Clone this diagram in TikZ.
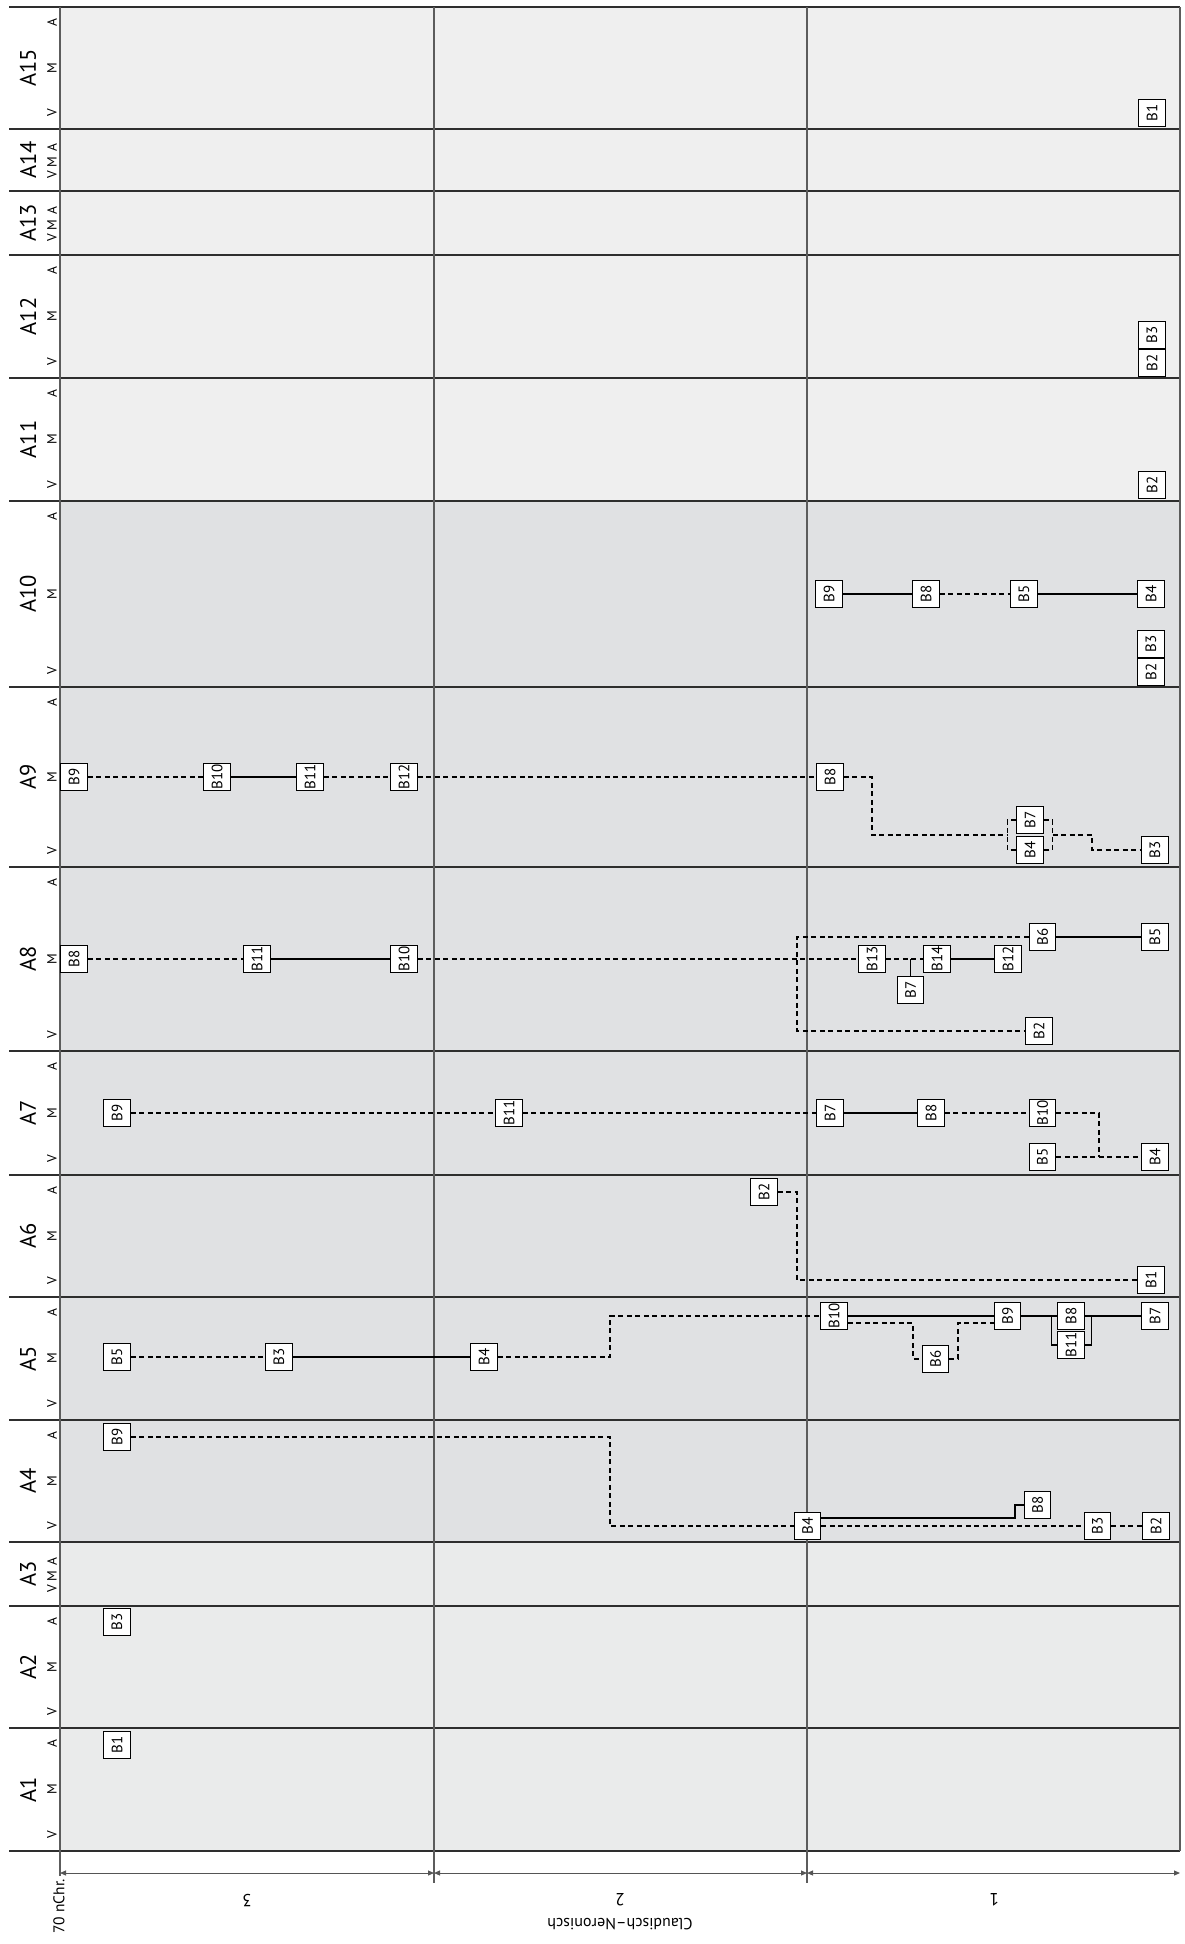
\documentclass[tikz,border=0pt]{standalone}
\usepackage{fontspec}
\setmainfont{PT Sans}
\usetikzlibrary{arrows.meta}
\pgfdeclarelayer{bg}
\pgfdeclarelayer{lines}
\pgfsetlayers{bg,lines,main}
\definecolor{bglight}{HTML}{EFEFEF}
\definecolor{bgmid}{HTML}{E0E1E3}
\definecolor{bglow}{HTML}{EAEBEB}
\definecolor{gridc}{HTML}{2E2E2E}
\definecolor{vgrid}{HTML}{5C5C5C}
\definecolor{axisc}{HTML}{555555}
\newcommand\blab[1]{\rotatebox{90}{#1}}
\tikzset{
 bx/.style={draw=black,line width=1.1pt,fill=white,minimum width=26.5pt,minimum height=26.5pt,inner sep=0pt,font=\fontsize{15}{15}\selectfont},
 solidc/.style={draw=black,line width=1.2pt},
 dashc/.style={draw=black,line width=1.2pt,dash pattern=on 5pt off 3.5pt},
 alab/.style={rotate=90,font=\fontsize{22.5}{23}\selectfont,inner sep=0pt},
 vma/.style={rotate=90,font=\fontsize{13.5}{14}\selectfont,inner sep=0pt},
 hline/.style={draw=gridc,line width=1.1pt},
 vline/.style={draw=vgrid,line width=1.4pt},
 axisline/.style={draw=axisc,line width=1pt,{Triangle[length=6pt,width=5pt]}-{Triangle[length=6pt,width=5pt]}},
 btxt/.style={rotate=180,font=\fontsize{17.5}{17.5}\selectfont,inner sep=0pt},
}
\begin{document}
\begin{tikzpicture}[x=1pt,y=-1pt]
\useasboundingbox (0,0) rectangle (1184,1944);
\begin{pgfonlayer}{bg}
\fill[bglight] (60,7) rectangle (1180,501);
\fill[bgmid] (60,501) rectangle (1180,1542);
\fill[bglow] (60,1542) rectangle (1180,1851);
\foreach \y in {7,129,191,255,378,501,687,867,1051,1175,1297,1420,1542,1606,1728,1851}
  \draw[hline] (9,\y) -- (1180,\y);
\draw[vline] (60,7) -- (60,1876);
\draw[vline] (434,7) -- (434,1883);
\draw[vline] (807,7) -- (807,1883);
\draw[vline] (1180,7) -- (1180,1851);
\end{pgfonlayer}
% row labels
\foreach \lab/\t/\b in {A15/7/129, A12/255/378, A11/378/501, A10/501/687, A9/687/867, A8/867/1051, A7/1051/1175, A6/1175/1297, A5/1297/1420, A4/1420/1542, A2/1606/1728, A1/1728/1851}{
  \node[alab] (lab\lab) at (28,{(\t+\b)/2}) {\lab};
  \node[vma] (v\lab) at (52,\b-16) {V};
  \node[vma] (m\lab) at (52,{(\t+\b)/2}) {M};
  \node[vma] (a\lab) at (52,\t+16) {A};
}
\foreach \lab/\t/\b in {A14/129/191, A13/191/255, A3/1542/1606}{
  \node[alab] (lab\lab) at (28,{(\t+\b)/2}) {\lab};
  \node[vma] (v\lab) at (52,{(\t+\b)/2+15}) {V};
  \node[vma] (m\lab) at (52,{(\t+\b)/2+2}) {M};
  \node[vma] (a\lab) at (52,{(\t+\b)/2-12}) {A};
}
% axis
\coordinate (ax0) at (60,1873);
\coordinate (ax1) at (434,1873);
\coordinate (ax2) at (807,1873);
\coordinate (ax3) at (1180,1873);
\draw[axisline] (ax0) -- (ax1);
\draw[axisline] (ax1) -- (ax2);
\draw[axisline] (ax2) -- (ax3);
\node[btxt] (t3) at (247,1900) {3};
\node[btxt] (t2) at (620,1900) {2};
\node[btxt] (t1) at (994,1900) {1};
\node[btxt,font=\fontsize{16}{16}\selectfont] (tcn) at (620,1924) {Claudisch–Neronisch};
\node[rotate=90,font=\fontsize{15.5}{15.5}\selectfont,inner sep=0pt,anchor=east] (t70) at (59,1879) {70 nChr.};
% A15
\node[bx] (p15b1) at (1152,113) {\blab{B1}};
% A12
\node[bx] (p12b3) at (1152,335) {\blab{B3}};
\node[bx] (p12b2) at (1152,363) {\blab{B2}};
% A11
\node[bx] (p11b2) at (1152,485) {\blab{B2}};
% A10
\node[bx] (p10b9) at (829,594) {\blab{B9}};
\node[bx] (p10b8) at (926,594) {\blab{B8}};
\node[bx] (p10b5) at (1024,594) {\blab{B5}};
\node[bx] (p10b4) at (1151,594) {\blab{B4}};
\node[bx] (p10b3) at (1151,644) {\blab{B3}};
\node[bx] (p10b2) at (1151,672) {\blab{B2}};
% A9
\node[bx] (p9b9) at (74,777) {\blab{B9}};
\node[bx] (p9b10) at (217,777) {\blab{B10}};
\node[bx] (p9b11) at (310,777) {\blab{B11}};
\node[bx] (p9b12) at (404,777) {\blab{B12}};
\node[bx] (p9b8) at (830,777) {\blab{B8}};
\node[bx] (p9b7) at (1030,820) {\blab{B7}};
\node[bx] (p9b4) at (1030,850) {\blab{B4}};
\node[bx] (p9b3) at (1155,850) {\blab{B3}};
% A8
\node[bx] (p8b8) at (74,959) {\blab{B8}};
\node[bx] (p8b11) at (257,959) {\blab{B11}};
\node[bx] (p8b10) at (404,959) {\blab{B10}};
\node[bx] (p8b13) at (872,959) {\blab{B13}};
\node[bx] (p8b14) at (937,959) {\blab{B14}};
\node[bx] (p8b12) at (1008,959) {\blab{B12}};
\node[bx] (p8b7) at (910.5,990) {\blab{B7}};
\node[bx] (p8b6) at (1042.5,937) {\blab{B6}};
\node[bx] (p8b5) at (1155,937) {\blab{B5}};
\node[bx] (p8b2) at (1039,1031) {\blab{B2}};
% A7
\node[bx] (p7b9) at (117,1113) {\blab{B9}};
\node[bx] (p7b11) at (509,1113) {\blab{B11}};
\node[bx] (p7b7) at (830,1113) {\blab{B7}};
\node[bx] (p7b8) at (931,1113) {\blab{B8}};
\node[bx] (p7b10) at (1042.5,1113) {\blab{B10}};
\node[bx] (p7b5) at (1042.5,1157) {\blab{B5}};
\node[bx] (p7b4) at (1155,1157) {\blab{B4}};
% A6
\node[bx] (p6b2) at (764,1192) {\blab{B2}};
\node[bx] (p6b1) at (1151,1280) {\blab{B1}};
% A5
\node[bx] (p5b5) at (117,1357) {\blab{B5}};
\node[bx] (p5b3) at (279,1357) {\blab{B3}};
\node[bx] (p5b4) at (484,1357) {\blab{B4}};
\node[bx] (p5b10) at (834,1316) {\blab{B10}};
\node[bx] (p5b9) at (1007.5,1316) {\blab{B9}};
\node[bx] (p5b8) at (1071,1316) {\blab{B8}};
\node[bx] (p5b11) at (1071,1345) {\blab{B11}};
\node[bx] (p5b7) at (1155,1316) {\blab{B7}};
\node[bx] (p5b6) at (935.5,1359) {\blab{B6}};
% A4
\node[bx] (p4b9) at (117,1437) {\blab{B9}};
\node[bx] (p4b4) at (807.5,1526) {\blab{B4}};
\node[bx] (p4b8) at (1037.5,1505) {\blab{B8}};
\node[bx] (p4b3) at (1097.5,1526) {\blab{B3}};
\node[bx] (p4b2) at (1156,1526) {\blab{B2}};
% A2, A1
\node[bx] (p2b3) at (117,1622) {\blab{B3}};
\node[bx] (p1b1) at (117,1745) {\blab{B1}};
\begin{pgfonlayer}{lines}
% A10
\draw[solidc] (p10b9) -- (p10b8);
\draw[dashc] (p10b8) -- (p10b5);
\draw[solidc] (p10b5) -- (p10b4);
% A9
\draw[dashc] (p9b9) -- (p9b10);
\draw[solidc] (p9b10) -- (p9b11);
\draw[dashc] (p9b11) -- (p9b12);
\draw[dashc] (p9b12) -- (p9b8);
\draw[dashc] (p9b8.east) -| (872,835) -- (1007.5,835);
\draw[dashc] (p9b7.west) -- ++(-9,0) |- (p9b4.west);
\draw[dashc] (p9b7.east) -- ++(9,0) |- (p9b4.east);
\draw[dashc] (1052.5,835) -| (1092,850) -- (p9b3.west);
% A8
\draw[dashc] (p8b8) -- (p8b11);
\draw[solidc] (p8b11) -- (p8b10);
\draw[dashc] (p8b10) -- (p8b13);
\draw[dashc] (p8b13) -- (p8b14);
\draw[solidc] (p8b7.north) -- (p8b7.north |- p8b13.east);
\draw[solidc] (p8b14) -- (p8b12);
\draw[dashc] (p8b6.west) -| (797,1031) -- (p8b2.west);
\draw[solidc] (p8b6) -- (p8b5);
% A7
\draw[dashc] (p7b9) -- (p7b11);
\draw[dashc] (p7b11) -- (p7b7);
\draw[solidc] (p7b7) -- (p7b8);
\draw[dashc] (p7b8) -- (p7b10);
\draw[dashc] (p7b10.east) -| (1099,1157);
\draw[dashc] (p7b5) -- (p7b4);
% A6
\draw[dashc] (p6b2.east) -| (797,1280) -- (p6b1.west);
% A5
\draw[dashc] (p5b5) -- (p5b3);
\draw[solidc] (p5b3) -- (p5b4);
\draw[dashc] (p5b4.east) -| (610,1316) -- (p5b10.west);
\draw[solidc] (p5b10) -- (p5b9);
\draw[dashc] ([yshift=-7pt]p5b10.east) -| (913,1359) -- (p5b6.west);
\draw[dashc] (p5b6.east) -| (958,1323) -- ([yshift=-7pt]p5b9.west);
\draw[solidc] (p5b9) -- (p5b8);
\draw[solidc] (p5b8.west) -- ++(-6,0) |- (p5b11.west);
\draw[solidc] (p5b8.east) -- ++(7,0) |- (p5b11.east);
\draw[solidc] (p5b8) -- (p5b7);
% A4
\draw[dashc] (p4b9.east) -| (610,1526) -- (p4b4.west);
\draw[solidc] ([yshift=8pt]p4b4.east) -| (1015,1505) -- (p4b8.west);
\draw[dashc] (p4b4) -- (p4b3);
\draw[dashc] (p4b3) -- (p4b2);
\end{pgfonlayer}
\end{tikzpicture}
\end{document}
